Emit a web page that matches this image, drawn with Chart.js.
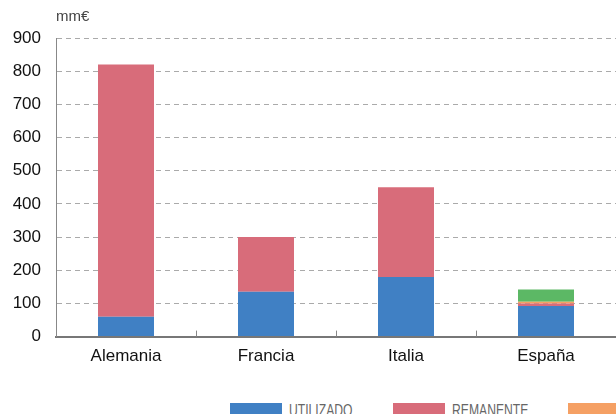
<!DOCTYPE html>
<html>
<head>
<meta charset="utf-8">
<script src="https://cdn.jsdelivr.net/npm/chart.js@4/dist/chart.umd.min.js"></script>
<style>
  html, body { margin: 0; padding: 0; background: #fff; overflow: hidden; }
  #wrap { position: relative; width: 616px; height: 414px; overflow: hidden; }
  #c { position: absolute; left: 0; top: 0; }
  #legend { position: absolute; top: 402px; left: 230px; display: flex; white-space: nowrap; }
  .item { display: flex; align-items: flex-start; flex: none; }
  .box { width: 52px; height: 14px; margin-top: 1px; margin-right: 7px; flex: none; }
  .lbl { display: inline-block; font-family: "Liberation Sans Narrow", "Liberation Sans", sans-serif; font-size: 16px; color: #666; line-height: 18px; transform: scaleX(0.76); transform-origin: left top; }
</style>
</head>
<body>
<div id="wrap">
  <canvas id="c" width="616" height="380"></canvas>
  <div id="legend"></div>
</div>
<script>
const categories = ["Alemania", "Francia", "Italia", "España"];
const seriesNames = ["UTILIZADO", "REMANENTE", "", ""];
const utilizado = [60, 135, 180, 92];
const remanente = [760, 165, 270, 8];
const naranja   = [0, 0, 0, 5];
const verde     = [0, 0, 0, 37];
const yTicks = [0, 100, 200, 300, 400, 500, 600, 700, 800, 900];
const unitLabel = "mm€";

const colors = ["#4080c4", "#d86c7a", "#f5a064", "#5cb865"];
const values = [utilizado, remanente, naranja, verde];

const datasets = values.map((v, i) => ({
  label: seriesNames[i],
  data: v,
  backgroundColor: colors[i],
  borderWidth: 0,
  categoryPercentage: 1.0,
  barPercentage: 0.4
}));

const innerTicks = {
  id: 'innerTicks',
  afterDatasetsDraw(chart) {
    const x = chart.scales.x, ctx = chart.ctx;
    const bottom = chart.chartArea.bottom;
    ctx.save();
    ctx.strokeStyle = '#888';
    ctx.lineWidth = 1;
    for (let i = 0; i < categories.length - 1; i++) {
      const px = Math.round((x.getPixelForValue(i) + x.getPixelForValue(i + 1)) / 2) + 0.5;
      ctx.beginPath();
      ctx.moveTo(px, bottom);
      ctx.lineTo(px, bottom - 6);
      ctx.stroke();
    }
    ctx.restore();
  }
};

new Chart(document.getElementById('c'), {
  type: 'bar',
  data: { labels: categories, datasets },
  plugins: [innerTicks],
  options: {
    responsive: false,
    animation: false,
    layout: { padding: { left: 0, right: 0, top: 0, bottom: 3 } },
    plugins: {
      legend: { display: false },
      tooltip: { enabled: false },
      title: {
        display: true,
        text: unitLabel,
        align: 'start',
        fullSize: false,
        color: '#444',
        font: { family: 'Liberation Sans', size: 15, weight: 'normal' },
        padding: { top: 8, bottom: 12 }
      }
    },
    scales: {
      x: {
        stacked: true,
        offset: true,
        grid: { display: false, drawTicks: false },
        border: { display: true, color: '#777', width: 2 },
        ticks: { color: '#111', padding: 10, font: { family: 'Liberation Sans', size: 17 } }
      },
      y: {
        stacked: true,
        min: 0,
        max: 900,
        afterBuildTicks(scale) { scale.ticks = yTicks.map(v => ({ value: v })); },
        afterFit(scale) { scale.width = 56; },
        grid: { color: '#aaa', lineWidth: 1, drawTicks: false },
        border: { display: true, color: '#888', width: 1, dash: [5, 4] },
        ticks: { color: '#111', padding: 15, font: { family: 'Liberation Sans', size: 17 } }
      }
    }
  }
});

const legend = document.getElementById('legend');
seriesNames.forEach((name, i) => {
  const it = document.createElement('div');
  it.className = 'item';
  const b = document.createElement('div');
  b.className = 'box';
  b.style.background = colors[i];
  const t = document.createElement('span');
  t.className = 'lbl';
  t.textContent = name;
  it.appendChild(b); it.appendChild(t);
  legend.appendChild(it);
  const tw = t.getBoundingClientRect().width;
  it.style.width = (52 + 7 + tw + 40) + 'px';
});
</script>
</body>
</html>
